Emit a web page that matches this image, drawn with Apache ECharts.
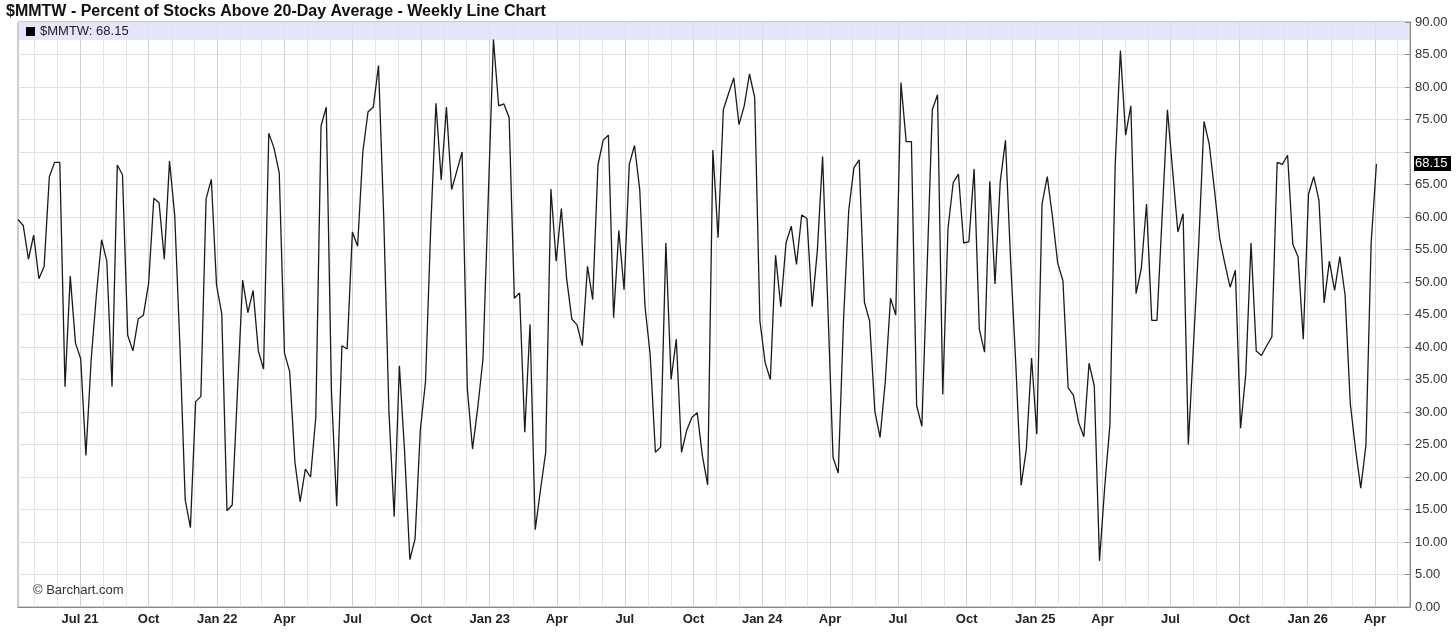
<!DOCTYPE html>
<html><head><meta charset="utf-8">
<script src="https://cdn.jsdelivr.net/npm/echarts@6/dist/echarts.min.js"></script>
<style>html,body{margin:0;padding:0;background:#fff}#c{width:1456px;height:643px}</style>
</head><body><div id="c"></div>
<script>
const symbolName = '$MMTW';
const titleText = '$MMTW - Percent of Stocks Above 20-Day Average - Weekly Line Chart';
const firstWeek = [2021, 4, 9]; // first weekly bar: Fri Apr 9 2021 (y, m, d)
const values = [
59.6,58.7,53.5,57.2,50.5,52.4,66.2,68.4,68.4,33.9,
50.9,40.6,38.2,23.3,38.0,48.0,56.5,53.2,33.9,68.0,
66.5,41.8,39.4,44.3,44.9,49.8,62.9,62.2,53.5,68.6,
60.2,40.0,16.5,12.2,31.6,32.4,62.8,65.8,49.5,45.1,
14.8,15.7,33.0,50.3,45.3,48.7,39.4,36.6,72.9,70.6,
66.8,39.1,36.2,22.3,16.2,21.2,20.0,29.2,74.0,76.9,
33.0,15.5,40.2,39.7,57.7,55.5,70.0,76.2,76.9,83.3,
60.0,30.0,13.9,37.1,23.8,7.3,10.5,27.2,34.7,58.4,
77.5,65.7,76.9,64.2,67.1,70.0,33.6,24.3,30.7,38.2,
62.8,87.3,77.1,77.4,75.3,47.5,48.3,26.9,43.5,11.9,
18.0,23.8,64.3,53.2,61.3,50.6,44.3,43.4,40.2,52.4,
47.3,68.0,71.8,72.6,44.5,57.9,48.8,68.1,71.0,64.2,
46.3,38.8,23.8,24.6,56.0,35.0,41.2,23.8,27.2,29.2,
29.9,23.2,18.8,70.3,56.8,76.5,79.0,81.4,74.2,77.1,
82.0,78.4,44.0,37.6,35.0,54.1,46.2,56.0,58.6,52.7,
60.3,59.8,46.2,54.9,69.3,46.3,23.0,20.6,44.0,61.0,
67.6,68.8,46.9,44.0,30.1,26.1,34.7,47.5,44.9,80.7,
71.6,71.6,31.0,27.8,52.1,76.5,78.8,32.7,58.2,65.3,
66.6,56.0,56.2,67.4,42.7,39.2,65.5,49.7,65.4,71.8,
53.0,37.0,18.7,24.3,38.3,26.6,62.0,66.2,60.0,52.9,
50.2,33.7,32.6,28.4,26.2,37.5,34.0,7.1,18.5,28.1,
68.0,85.6,72.6,77.1,48.2,52.1,62.0,44.1,44.1,60.3,
76.5,67.1,57.7,60.5,25.0,40.5,56.0,74.7,71.2,64.2,
56.7,52.8,49.2,51.8,27.5,35.9,56.0,39.4,38.7,40.2,
41.6,68.4,68.1,69.5,55.8,53.9,41.2,63.5,66.2,62.6,
46.8,53.2,48.7,53.9,48.0,31.3,24.3,18.3,24.9,56.1,
68.15
];
const quarterTickDates = ['2021-07-01','2021-10-01','2022-01-01','2022-04-01','2022-07-01','2022-10-01',
  '2023-01-01','2023-04-01','2023-07-01','2023-10-01','2024-01-01','2024-04-01','2024-07-01','2024-10-01',
  '2025-01-01','2025-04-01','2025-07-01','2025-10-01','2026-01-01','2026-04-01'];
const quarterTickLabels = ['Jul 21','Oct','Jan 22','Apr','Jul','Oct','Jan 23','Apr','Jul','Oct',
  'Jan 24','Apr','Jul','Oct','Jan 25','Apr','Jul','Oct','Jan 26','Apr'];
const yMin = 0, yMax = 90, yStep = 5;

const DAY = 86400000;
function parseD(s){const p=s.split('-').map(Number);return new Date(p[0],p[1]-1,p[2]).getTime();}
const weekTimes = values.map((v,i)=>new Date(firstWeek[0], firstWeek[1]-1, firstWeek[2]+7*i).getTime());
const seriesData = values.map((v,i)=>[weekTimes[i], v]);
const qTimes = quarterTickDates.map(parseD);
const labelMap = {};
qTimes.forEach((t,i)=>{labelMap[t]=quarterTickLabels[i];});
const last = values[values.length-1];
const xMin = weekTimes[0], xMax = weekTimes[weekTimes.length-1]+45*DAY;
// month-start gridline positions across the visible range
const monthTimes = [];
{ const d0 = new Date(xMin); let y=d0.getFullYear(), m=d0.getMonth()+1;
  while(true){ const t=new Date(y,m,1).getTime(); if(t>=xMax) break; if(!labelMap[t]) monthTimes.push(t); m++; } }
const FONT = '"Liberation Sans", Arial, sans-serif';

const chart = echarts.init(document.getElementById('c'), null, {renderer:'canvas'});
chart.setOption({
  animation:false,
  backgroundColor:'#fff',
  textStyle:{fontFamily:FONT},
  title:{text:titleText,left:1,top:-1,textStyle:{fontFamily:FONT,fontSize:16,fontWeight:'bold',color:'#111'}},
  grid:{left:18,right:46,top:22,bottom:36,containLabel:false,outerBoundsMode:'none',show:true,borderColor:'#9a9a9a',borderWidth:1,backgroundColor:'#fff'},
  xAxis:{type:'time',min:xMin,max:xMax,
    minInterval:31*DAY,maxInterval:31*DAY,splitNumber:60,
    axisLine:{lineStyle:{color:'#8a8a8a'}},axisTick:{show:false},
    axisLabel:{fontFamily:FONT,fontSize:13,fontWeight:'bold',color:'#222',margin:6,hideOverlap:false,showMinLabel:false,showMaxLabel:false,
      formatter:function(v){const d=new Date(v);const t=new Date(d.getFullYear(),d.getMonth(),d.getDate()).getTime();return labelMap[t]||'';}},
    splitLine:{show:false}},
  yAxis:{type:'value',position:'right',min:yMin,max:yMax,interval:yStep,
    axisLine:{show:true,lineStyle:{color:'#8a8a8a'}},
    axisTick:{show:true,inside:true,length:5,lineStyle:{color:'#8a8a8a'}},
    axisLabel:{fontFamily:FONT,fontSize:13,color:'#333',margin:5,
      formatter:function(v){return v===70?'':v.toFixed(2);}},
    splitLine:{show:true,lineStyle:{color:'#e2e2e2',width:1}}},
  series:[
    {type:'line',data:[],z:1,silent:true,
     markLine:{silent:true,z:1,symbol:['none','none'],label:{show:false},animation:false,
       lineStyle:{color:'#e6e6e6',type:'solid',width:1},
       data:monthTimes.map(t=>({xAxis:t}))}},
    {type:'line',data:[],z:1,silent:true,
     markLine:{silent:true,z:1,symbol:['none','none'],label:{show:false},animation:false,
       lineStyle:{color:'#d2d2d2',type:'solid',width:1},
       data:qTimes.map(t=>({xAxis:t}))}},
    {type:'line',data:seriesData,z:5,showSymbol:false,symbol:'none',
     lineStyle:{color:'#1a1a1a',width:1.3},silent:true}
  ]
});

const yLast = chart.convertToPixel({yAxisIndex:0}, last);
chart.setOption({graphic:[
  {type:'rect',z:2,silent:true,shape:{x:19,y:23,width:1390,height:17},style:{fill:'rgba(222,222,250,0.8)'}},
  {type:'rect',z:10,silent:true,shape:{x:26,y:27,width:9,height:9},style:{fill:'#000'}},
  {type:'text',z:10,silent:true,left:40,top:25,style:{text:symbolName+': '+last.toFixed(2),font:'13px '+FONT,fill:'#222'}},
  {type:'text',z:10,silent:true,left:33,top:584,style:{text:'\u00a9 Barchart.com',font:'13px '+FONT,fill:'#333'}},
  {type:'rect',z:10,silent:true,shape:{x:1414,y:yLast-8,width:37,height:15},style:{fill:'#000'}},
  {type:'text',z:11,silent:true,left:1415,top:yLast-7,style:{text:last.toFixed(2),font:'13px '+FONT,fill:'#fff'}}
]});
</script></body></html>
